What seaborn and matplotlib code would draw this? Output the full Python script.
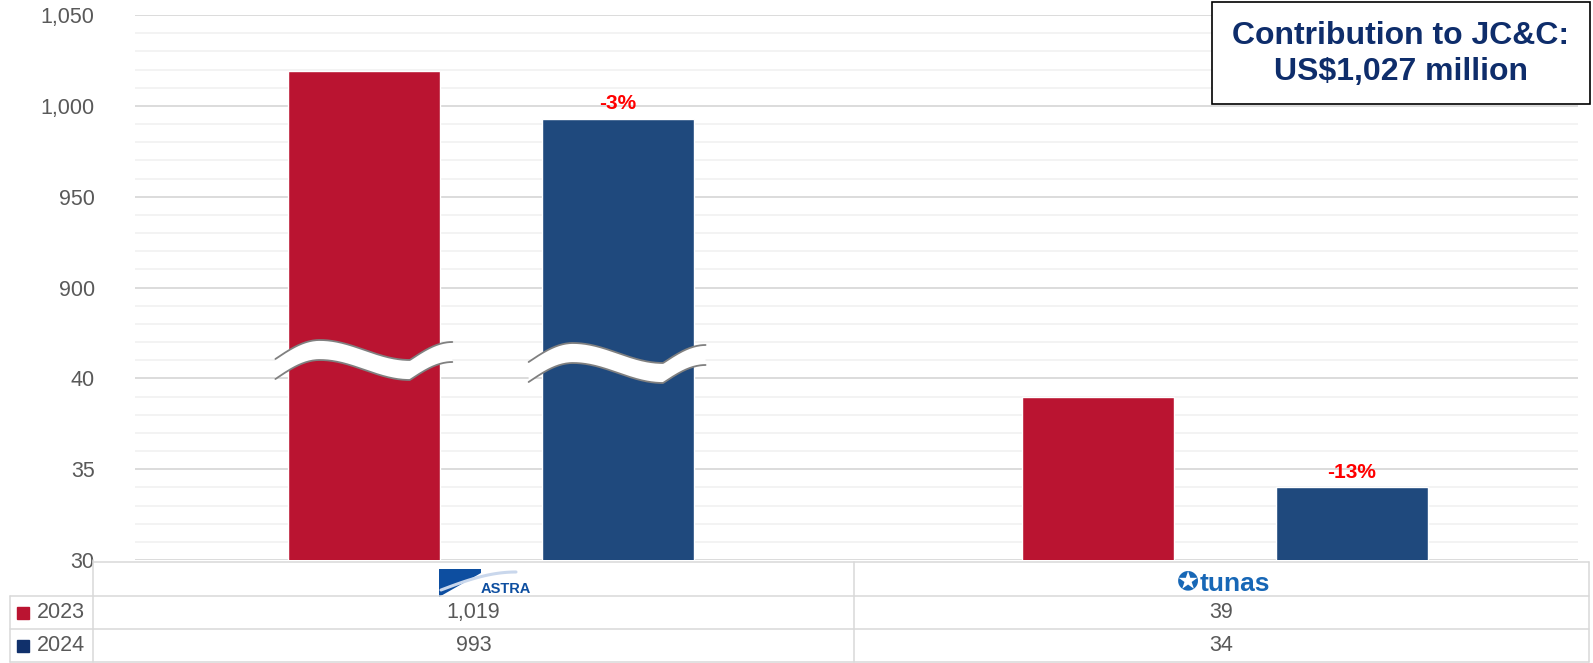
import numpy as np
import pandas as pd
import matplotlib
matplotlib.use("Agg")
import matplotlib.pyplot as plt
import seaborn as sns
from matplotlib import transforms
from matplotlib.lines import Line2D
from matplotlib.patches import Rectangle, Polygon
from matplotlib.ticker import FixedLocator, FuncFormatter, NullFormatter

# -----------------------------
# Data
# -----------------------------
companies = ["ASTRA", "tunas"]
years = ["2023", "2024"]
values_2023 = [1019, 39]
values_2024 = [993, 34]
change_labels = ["-3%", "-13%"]
ytick_values = [30, 35, 40, 900, 950, 1000, 1050]
box_text = "Contribution to JC&C:\nUS$1,027 million"

RED = "#BA1431"
BLUE = "#1F497D"
KEY_BLUE = "#10306B"
GREY_TXT = "#595959"
GRID = "#d9d9d9"

# -----------------------------
# Figure geometry (pixels, from top-left)
# -----------------------------
W, H = 1593, 663
AX_L, AX_R, AX_T, AX_B = 135, 1578, 15, 560


def fx(x):
    return x / W


def fy(y):
    return 1 - y / H


sns.set_style("white")
plt.rcParams["font.family"] = ["Liberation Sans", "DejaVu Sans"]

fig = plt.figure(figsize=(W / 100, H / 100), dpi=100)
ax = fig.add_axes([fx(AX_L), fy(AX_B), (AX_R - AX_L) / W, (AX_B - AX_T) / H])


# broken axis: 30-40 and 900-1050 on one piecewise scale
def fwd(v):
    v = np.asarray(v, dtype=float)
    return np.where(v >= 900, 3 + (v - 900) / 50,
                    np.where(v <= 40, (v - 30) / 5, 2 + (v - 40) / 860))


def inv(p):
    p = np.asarray(p, dtype=float)
    return np.where(p >= 3, 900 + (p - 3) * 50,
                    np.where(p <= 2, 30 + p * 5, 40 + (p - 2) * 860))


ax.set_yscale("function", functions=(fwd, inv))

df = pd.DataFrame({
    "company": companies * 2,
    "year": [years[0]] * len(companies) + [years[1]] * len(companies),
    "value": values_2023 + values_2024,
})

sns.barplot(data=df, x="company", y="value", hue="year", hue_order=years,
            palette=[RED, BLUE], width=0.69, gap=0.40, saturation=1,
            errorbar=None, legend=False, ax=ax, zorder=3)

XL = (-0.485, 1.481)
ax.set_xlim(*XL)
ax.set_ylim(30, 1050)
ax.set_xticks([])
ax.set_xlabel("")
ax.set_ylabel("")

ax.yaxis.set_major_locator(FixedLocator(ytick_values))
ax.yaxis.set_major_formatter(FuncFormatter(lambda v, p: f"{v:,.0f}"))
ax.yaxis.set_minor_locator(FixedLocator(inv(np.arange(0, 6.001, 0.2))))
ax.yaxis.set_minor_formatter(NullFormatter())
ax.grid(which="major", axis="y", color=GRID, lw=1.3)
ax.grid(which="minor", axis="y", color="#f0f0f0", lw=1.1)
ax.set_axisbelow(True)
ax.tick_params(axis="y", which="both", length=0, pad=29,
               labelsize=15.5, labelcolor=GREY_TXT)
sns.despine(ax=ax, left=True, bottom=True)

# change labels above 2024 bars
ax.bar_label(ax.containers[1], labels=change_labels, padding=4,
             color="#ff0000", fontweight="bold", fontsize=15)

# -----------------------------
# Break symbols on the ASTRA bars
# -----------------------------
px_per_unit = (AX_R - AX_L) / (XL[1] - XL[0])
ax_h = AX_B - AX_T
trans = transforms.blended_transform_factory(ax.transData, ax.transAxes)

t = np.linspace(0, 1, 200)
off = np.where(t <= 0.25, 9 - 19 * np.sin(np.pi / 2 * t / 0.25),
               np.where(t <= 0.76,
                        -10 + 20 * (1 - np.cos(np.pi * (t - 0.25) / 0.51)) / 2,
                        10 - 18 * np.sin(np.pi / 2 * (t - 0.76) / 0.24)))

for cont, base in zip(ax.containers, [350, 353]):
    bar = cont[0]
    x0 = bar.get_x() - 13 / px_per_unit
    x1 = bar.get_x() + bar.get_width() + 12 / px_per_unit
    xs = x0 + t * (x1 - x0)
    y_up = (AX_B - (base + off)) / ax_h
    y_lo = (AX_B - (base + 20 + off)) / ax_h
    poly = np.column_stack([np.r_[xs, xs[::-1]], np.r_[y_up, y_lo[::-1]]])
    ax.add_patch(Polygon(poly, closed=True, facecolor="white", edgecolor="none",
                         transform=trans, zorder=5))
    ax.plot(xs, y_up, color="#808080", lw=1.3, transform=trans, zorder=6)
    ax.plot(xs, y_lo, color="#808080", lw=1.3, transform=trans, zorder=6)

# -----------------------------
# Data table below the chart
# -----------------------------
T_TOP, R1, R2, R3 = 562, 596, 629, 662
C0, C1, C2, C3 = 10, 93, 854, 1589


def hline(y, a, b):
    fig.add_artist(Line2D([fx(a), fx(b)], [fy(y), fy(y)], transform=fig.transFigure,
                          color=GRID, lw=1.1))


def vline(x, a, b):
    fig.add_artist(Line2D([fx(x), fx(x)], [fy(a), fy(b)], transform=fig.transFigure,
                          color=GRID, lw=1.1))


hline(T_TOP, C1, C3)
for y in [R1, R2, R3]:
    hline(y, C0, C3)
vline(C0, R1, R3)
vline(C1, AX_B, R3)
vline(C2, T_TOP, R3)
vline(C3, T_TOP, R3)

col_centers = [(C1 + C2) / 2, (C2 + C3) / 2]
rows = [((R1 + R2) / 2, years[0], values_2023, RED),
        ((R2 + R3) / 2, years[1], values_2024, KEY_BLUE)]
for yc, yr, vals, col in rows:
    fig.add_artist(Rectangle((fx(17), fy(yc + 6)), 12 / W, 12 / H,
                             transform=fig.transFigure, color=col))
    fig.text(fx(37), fy(yc), yr, ha="left", va="center", fontsize=15.5, color=GREY_TXT)
    for xc, v in zip(col_centers, vals):
        fig.text(fx(xc), fy(yc), f"{v:,}", ha="center", va="center",
                 fontsize=15.5, color=GREY_TXT)

# logos as text
LOGO_BLUE = "#0D4EA0"
swoosh = [(439, 569), (481, 569), (481, 573), (439, 597)]
fig.add_artist(Polygon([(fx(a), fy(b)) for a, b in swoosh], closed=True,
                       transform=fig.transFigure, facecolor=LOGO_BLUE, edgecolor="none"))
sx = np.linspace(441, 516, 50)
sy = 590 - 18 * np.sin(np.pi / 2 * (sx - 441) / 75)
fig.add_artist(Line2D(fx(sx), fy(sy), transform=fig.transFigure,
                      color="#c9d7ec", lw=2.2))
fig.text(fx(481), fy(593), companies[0], ha="left", va="baseline",
         fontsize=10.5, fontweight="bold", color=LOGO_BLUE)

TUNAS_BLUE = "#1767B6"
fig.text(fx(1188), fy(582), "\u272a", ha="center", va="center",
         fontsize=19, color=TUNAS_BLUE, family=["DejaVu Sans"])
fig.text(fx(1200), fy(591), companies[1], ha="left", va="baseline",
         fontsize=19, fontweight="bold", color=TUNAS_BLUE)

# -----------------------------
# Contribution box
# -----------------------------
fig.add_artist(Rectangle((fx(1212), fy(104)), (1590 - 1212) / W, (104 - 1.5) / H,
                         transform=fig.transFigure, facecolor="white",
                         edgecolor="black", lw=1.2, zorder=10))
fig.text(fx(1401), fy(54), box_text, ha="center", va="center", fontsize=23,
         fontweight="bold", color="#0E2D6B", linespacing=1.3, zorder=11)

fig.savefig("out.png", dpi=100)
